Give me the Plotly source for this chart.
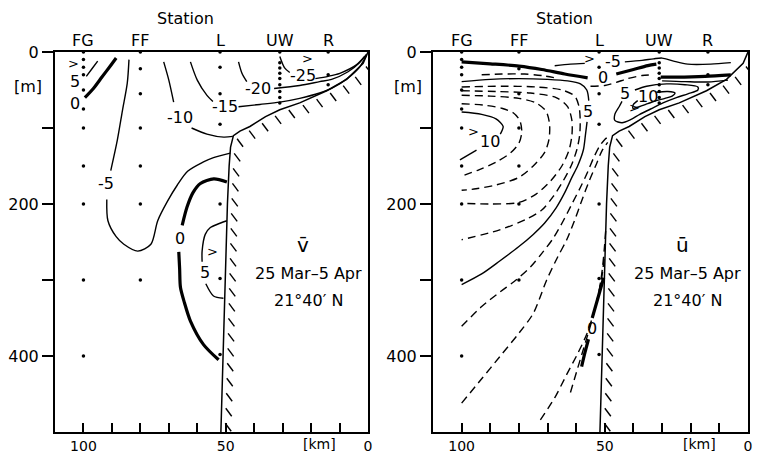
import numpy as np
import plotly.graph_objects as go

# ------------------------------------------------------------------ data
station_names = ["FG", "FF", "L", "UW", "R"]
station_km = [100, 80, 52, 31, 14]
fg_depths = [0, 10, 20, 30, 50, 75, 100, 150, 200, 300, 400]
ff_depths = [0, 22, 55, 100, 150, 200, 300]
l_depths = [0, 20, 55, 95, 200, 298, 398]
uw_depths = [0, 14, 21, 28, 35, 43, 52, 60, 67]
r_depths = [0, 30, 43]

# bottom topography (km, m)
bottom_km = [0, 1.7, 7.5, 14.5, 24, 31, 36, 41.5, 45, 47.3, 48.3, 48.8, 49.4, 50.1, 50.8, 51.7]
bottom_m = [0, 15, 36, 51, 67, 76, 85, 98, 104, 110, 125, 150, 200, 300, 400, 500]

# ---- v (alongshore) contours, (km, depth)
v_p5_top = [(95, 12), (97, 22), (99, 32)]
v_0_top = [(88.5, 8), (90.5, 18), (93.5, 33), (96.5, 48), (99.5, 60)]
v_m5_a = [(84, 10), (84.6, 41), (86.3, 77), (88.1, 116), (90.4, 156)]
v_m5_b = [(91.8, 194), (91.4, 222), (88.5, 243), (85.8, 253), (80.9, 262), (76.3, 253),
          (73.9, 222), (70.4, 196), (67, 175), (63.4, 157), (58, 145), (54.3, 139), (48.4, 133)]
v_m10_a = [(71.8, 13), (70, 37), (68.3, 66)]
v_m10_b = [(62, 100), (56.6, 108), (50.7, 112), (47.5, 111)]
v_m15_a = [(62.4, 13), (60, 37), (56.6, 57), (54.5, 65)]
v_m15_b = [(45.5, 72), (38, 69), (31, 66), (24, 61), (17, 54), (12.8, 48), (7, 34), (3, 20), (0.5, 4)]
v_m20_a = [(45.5, 13), (44.3, 28), (42.6, 39)]
v_m20_b = [(33, 48), (24, 44), (17, 39), (12.8, 36), (7, 26), (3, 14), (0.5, 3)]
v_m25_a = [(31, 6), (29.3, 21), (27.5, 27)]
v_m25_b = [(18.5, 35), (14, 32), (9.9, 28), (4.1, 17), (1.2, 6)]
v_0_low_a = [(49.6, 171), (54.2, 167), (58.9, 173), (61.5, 185), (63.6, 204), (65.3, 228)]
v_0_low_b = [(66.5, 263), (66.2, 285), (65.9, 310), (64.5, 330), (62.4, 354), (57.8, 385), (52.5, 405)]
v_p5_low_a = [(49.6, 222), (51.8, 225), (55.4, 231), (57.2, 240), (58.3, 262), (58.3, 276)]
v_p5_low_b = [(57, 305), (54.3, 321), (50.8, 324)]

v_labels = ["5", "0", "-5", "-10", "-15", "-20", "-25", "0", "5"]
v_label_km = [103, 103, 92.2, 65.9, 50.2, 38.5, 22.7, 66.2, 57.4]
v_label_m = [39, 68, 173, 86, 72, 48, 31, 246, 290]
v_arrow_km = [103.5, 21.2, 54.5]
v_arrow_m = [15, 8, 262]

# ---- u (cross-shore) contours
u_0_a = [(100, 13), (90, 15.5), (80, 18.5), (72, 23), (64, 29), (56, 34)]
u_0_b = [(46, 29), (40, 23), (35, 18), (32, 16)]
u_0_c = [(30.5, 33), (25, 33), (15, 32), (6, 30)]
u_m5_a = [(67.5, 18), (62, 16), (57, 15)]
u_m5_b = [(43, 13), (37, 11), (33, 9), (30, 8), (26, 12), (21, 16), (13, 16), (6, 14)]
u_d0_a = [(93, 30), (86, 29), (78, 29), (72, 31), (66, 35)]
u_d0_b = [(55, 45), (50, 44), (46, 40), (42, 35), (37, 31), (33, 30)]
u_s0_c = [(30, 38), (22, 39), (14, 39.5), (7, 37)]
u_5_a = [(100, 39), (90, 36), (80, 35), (70, 36), (63, 38), (58.5, 42), (56.3, 50), (55.6, 64)]
u_5_b = [(56.2, 92), (56.8, 110), (57.5, 129), (59.5, 150), (61.5, 165), (64, 185), (67, 205),
         (71, 225), (75, 240), (80, 256), (86.7, 275), (93, 292), (100, 306)]
u_10_a = [(100, 79), (93, 82), (88, 88), (85.5, 98), (86.5, 108)]
u_10_b = [(94.8, 129), (100.6, 142)]
u_d1 = [(100, 68), (92, 70), (86, 74), (82, 80), (79.7, 90), (79, 105), (80, 120), (83, 133),
        (88, 145), (94, 155), (99, 162)]
u_d2 = [(100, 57), (90, 58), (80, 61), (74, 67), (70.5, 78), (69.3, 95), (69.5, 115), (71, 132),
        (75, 150), (80, 165), (88, 175), (95, 180), (100, 182)]
u_d3 = [(100, 51), (88, 52), (76, 54), (67, 60), (63, 72), (61.5, 90), (61.5, 110), (62.5, 129),
        (65, 150), (69, 170), (74, 187), (80, 198), (90, 200), (100, 199)]
u_d4 = [(100, 46), (86, 45), (74, 46), (65, 50), (60.5, 58), (59, 72), (58.6, 90), (58.8, 110),
        (59.8, 129), (61.8, 150), (64.6, 170), (68, 190), (72, 208), (77.4, 220), (86.7, 234), (100, 247)]
u_e1 = [(100, 361), (93, 335), (86.7, 316), (81, 300), (76, 283), (72, 265), (68, 245), (64.5, 222),
        (61.5, 200), (58.5, 178), (56, 158), (54, 140), (52, 125), (50, 115), (48.5, 111)]
u_e2 = [(100, 462), (93, 430), (86.7, 401), (80, 370), (75, 344), (70.3, 300), (66.5, 270),
        (63.3, 247), (60.5, 221), (58, 195), (55.5, 170), (53, 148), (51, 130), (49, 119)]
u_e3 = [(72.5, 484), (67.5, 455), (63.4, 425), (59.5, 397), (56.4, 372), (54, 345), (52.2, 318),
        (51, 290), (50.2, 260), (49.6, 230)]
u_e4 = [(62, 448), (59.8, 420), (57.8, 395), (55.8, 370), (53.9, 345), (52.3, 320), (51, 295), (50.2, 270)]
u_0_low_a = [(58.1, 414), (56.9, 395), (55.7, 378)]
u_0_low_b = [(54.4, 350), (52.5, 325), (50.4, 297)]
u_5_loop = [(39.5, 50), (35.4, 45), (28.4, 42), (22, 43), (17.5, 46), (17.5, 50), (21, 55), (25, 60),
            (29.7, 67), (34, 75), (37.8, 82), (41, 89), (44, 93), (46.5, 90), (46.5, 82), (45, 72), (44, 65)]
u_10_loop = [(32, 53), (28, 52), (25.5, 54), (26.5, 58), (29, 61), (32, 64), (35, 68), (38, 72),
             (40.2, 74), (40, 69), (38.5, 64)]

u_labels = ["-5", "0", "5", "10", "5", "10", "0"]
u_label_km = [47, 50.5, 56, 90.2, 43, 34.8, 54.6]
u_label_m = [12, 33, 78, 118, 55, 58, 364]
u_arrow_km = [55.5, 96, 39.5]
u_arrow_m = [8, 104, 73]

# ------------------------------------------------------------------ layout helpers
W, H = 759, 454
FONT = "DejaVu Sans"
PX_KM = 2.86
PX_M = 0.76

fig = go.Figure()


def add_lines(paths, xa, ya, width, dash="solid"):
    xs, ys = [], []
    for p in paths:
        for k, z in p:
            xs.append(k)
            ys.append(z)
        xs.append(None)
        ys.append(None)
    fig.add_trace(go.Scatter(x=xs, y=ys, mode="lines", xaxis=xa, yaxis=ya,
                             line=dict(color="black", width=width, dash=dash, shape="spline", smoothing=0.8),
                             hoverinfo="skip", showlegend=False, connectgaps=False))


def add_bottom(xa, ya):
    fig.add_trace(go.Scatter(x=bottom_km, y=bottom_m, mode="lines", xaxis=xa, yaxis=ya,
                             line=dict(color="black", width=1.5), hoverinfo="skip", showlegend=False))
    # hatching below/right of the bottom line
    px = -np.array(bottom_km) * PX_KM
    py = np.array(bottom_m) * PX_M
    s = np.concatenate([[0], np.cumsum(np.hypot(np.diff(px), np.diff(py)))])
    ss = np.arange(14, s[-1] - 8, 15)
    hx = np.interp(ss, s, px)
    hy = np.interp(ss, s, py)
    xs, ys = [], []
    for x0, y0 in zip(hx, hy):
        x1, y1 = x0 + 4, y0 + 2
        x2, y2 = x1 + 6, y1 + 8
        xs += [-x1 / PX_KM, -x2 / PX_KM, None]
        ys += [y1 / PX_M, y2 / PX_M, None]
    fig.add_trace(go.Scatter(x=xs, y=ys, mode="lines", xaxis=xa, yaxis=ya,
                             line=dict(color="black", width=1.4), hoverinfo="skip", showlegend=False))


def add_stations(xa, ya):
    xs, ys = [], []
    for k, dl in zip(station_km, [fg_depths, ff_depths, l_depths, uw_depths, r_depths]):
        xs += [k] * len(dl)
        ys += dl
    fig.add_trace(go.Scatter(x=xs, y=ys, mode="markers", xaxis=xa, yaxis=ya,
                             marker=dict(color="black", size=3.5), hoverinfo="skip", showlegend=False,
                             cliponaxis=False))


def ann(x, y, xref, yref, text, size=16):
    fig.add_annotation(x=x, y=y, xref=xref, yref=yref, text=text, showarrow=False,
                       xanchor="center", yanchor="middle",
                       font=dict(family=FONT, size=size, color="black"))


def add_texts(xa, ya, texts, kms, ms, size=16):
    for t, k, m in zip(texts, kms, ms):
        ann(k, m, xa, ya, t, size)


# ------------------------------------------------------------------ left panel (v)
add_bottom("x", "y")
add_lines([v_p5_top, v_m5_a, v_m5_b, v_m10_a, v_m10_b, v_m15_a, v_m15_b, v_m20_a, v_m20_b,
           v_m25_a, v_m25_b, v_p5_low_a, v_p5_low_b], "x", "y", 1.4)
add_lines([v_0_top, v_0_low_a, v_0_low_b], "x", "y", 3.2)
add_stations("x", "y")
add_texts("x", "y", v_labels, v_label_km, v_label_m)
add_texts("x", "y", [">"] * len(v_arrow_km), v_arrow_km, v_arrow_m, size=13)

# ------------------------------------------------------------------ right panel (u)
add_bottom("x2", "y2")
add_lines([u_m5_a, u_m5_b, u_5_a, u_5_b, u_10_a, u_10_b, u_s0_c, u_5_loop, u_10_loop], "x2", "y2", 1.4)
add_lines([u_d0_a, u_d0_b, u_d1, u_d2, u_d3, u_d4, u_e1, u_e2, u_e3, u_e4], "x2", "y2", 1.4, dash="8px,5px")
add_lines([u_0_a, u_0_b, u_0_c, u_0_low_a, u_0_low_b], "x2", "y2", 3.2)
add_stations("x2", "y2")
add_texts("x2", "y2", u_labels, u_label_km, u_label_m)
add_texts("x2", "y2", [">"] * len(u_arrow_km), u_arrow_km, u_arrow_m, size=13)

# ------------------------------------------------------------------ headers and panel text
Y_STATION = 1 - 40 / H
Y_TITLE = 1 - 19 / H
Y_KM = 1 - 444 / H
for xa, ya, sym in [("x", "y", "v\u0304"), ("x2", "y2", "u\u0304")]:
    for name, k in zip(station_names, station_km):
        ann(k, Y_STATION, xa, "paper", name)
    ann(64, Y_TITLE, xa, "paper", "Station")
    ann(17, Y_KM, xa, "paper", "[km]", 14)
    ann(23, 254, xa, ya, sym, 20)
    ann(21, 291, xa, ya, "25 Mar\u20135 Apr")
    ann(21, 327, xa, ya, "21\u00b040\u2032 N")

ann(28 / W, 1 - 86 / H, "paper", "paper", "[m]")
ann(408 / W, 1 - 86 / H, "paper", "paper", "[m]")

xticks = [100, 90, 80, 70, 60, 50, 40, 30, 20, 10, 0]
xtick_text = ["100", "", "", "", "", "50", "", "", "", "", "0"]
yticks = [0, 100, 200, 300, 400]
ytick_text = ["0", "", "200", "", "400"]

xcommon = dict(range=[110, 0], showline=True, mirror=True, linecolor="black", linewidth=2,
               ticks="inside", ticklen=9, tickwidth=1.5, tickcolor="black", automargin=False,
               tickvals=xticks, ticktext=xtick_text, showgrid=False, zeroline=False,
               tickfont=dict(family=FONT, size=14, color="black"))
ycommon = dict(range=[500, 0], showline=True, mirror=True, linecolor="black", linewidth=2,
               ticks="outside", ticklen=11, tickwidth=1.5, tickcolor="black", automargin=False,
               tickvals=yticks, ticktext=ytick_text, showgrid=False, zeroline=False,
               tickfont=dict(family=FONT, size=16, color="black"))

ydom = [1 - 432 / H, 1 - 52 / H]
fig.update_layout(
    template="none",
    width=W, height=H, margin=dict(l=0, r=0, t=0, b=0, pad=0),
    paper_bgcolor="white", plot_bgcolor="white",
    font=dict(family=FONT, size=16, color="black"),
    xaxis=dict(domain=[55 / W, 368 / W], anchor="y", **xcommon),
    yaxis=dict(domain=ydom, anchor="x", **ycommon),
    xaxis2=dict(domain=[433 / W, 748 / W], anchor="y2", **xcommon),
    yaxis2=dict(domain=ydom, anchor="x2", **ycommon),
    showlegend=False,
)

fig.write_html("out.html")
